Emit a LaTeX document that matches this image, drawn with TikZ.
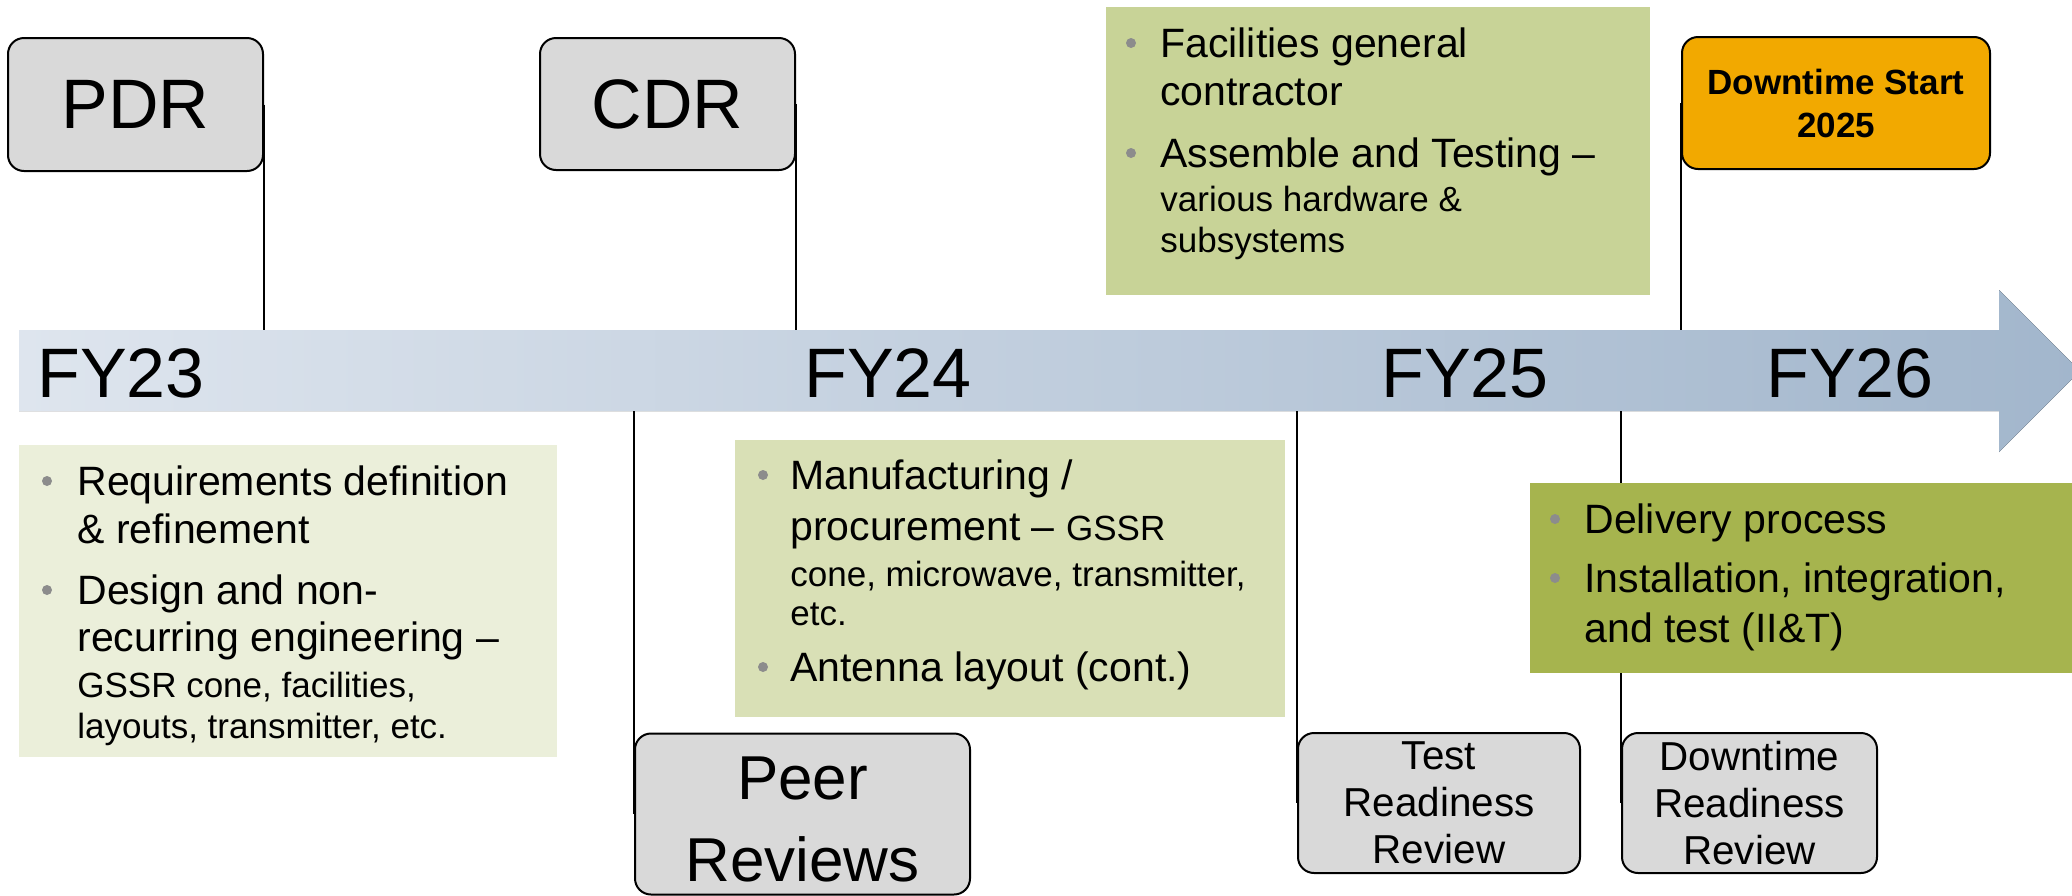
\documentclass[tikz,border=0pt]{standalone}
\usepackage{fontspec}
\setmainfont{Liberation Sans}
\usetikzlibrary{backgrounds}
\newcommand\smtxt{\fontsize{17.5}{20}\selectfont}
\definecolor{boxgray}{HTML}{D9D9D9}
\definecolor{cone}{HTML}{EBEFDA}
\definecolor{ctwo}{HTML}{D9E0B6}
\definecolor{cthree}{HTML}{C8D397}
\definecolor{cfour}{HTML}{A6B44E}
\definecolor{dtorange}{HTML}{F2A900}
\definecolor{bandleft}{HTML}{DEE5EE}
\definecolor{bandright}{HTML}{A2B6CC}
\definecolor{bulletgray}{HTML}{8C8C8C}
\tikzset{
  gbox/.style={draw=black, line width=1pt, fill=boxgray, rounded corners=8pt, inner sep=0pt, align=center},
  cbox/.style={inner sep=0pt, outer sep=0pt, anchor=north west},
  bigtxt/.style={anchor=base west, inner sep=0pt, font=\fontsize{20.5}{24}\selectfont},
  smalltxt/.style={anchor=base west, inner sep=0pt, font=\smtxt},
  bdot/.style={circle, fill=bulletgray, inner sep=0pt, minimum size=5pt},
  fytxt/.style={anchor=base west, inner sep=0pt, font=\fontsize{35}{40}\selectfont},
  hugetxt/.style={font=\fontsize{35}{40}\selectfont},
  revtxt/.style={font=\fontsize{20.2}{23.5}\selectfont},
  tick/.style={line width=0.7pt, draw=black}
}
\begin{document}
\begin{tikzpicture}[x=0.5pt,y=-0.5pt]
\useasboundingbox (0,0) rectangle (2072,895);
\coordinate (bandN) at (0,330);
\coordinate (bandS) at (0,411);
% year labels
\node[fytxt] (fy23) at (37,397) {FY23};
\node[fytxt] (fy24) at (804,397) {FY24};
\node[fytxt] (fy25) at (1381,397) {FY25};
\node[fytxt] (fy26) at (1766,397) {FY26};
% milestone boxes
\path (135.5,104.5) node[gbox, hugetxt, minimum width=127.5pt, minimum height=66.5pt] (pdr) {PDR};
\path (667.5,104) node[gbox, hugetxt, minimum width=127.5pt, minimum height=66pt] (cdr) {CDR};
\path (1836,103) node[gbox, fill=dtorange, minimum width=154pt, minimum height=66pt, font=\fontsize{17.5}{21.5}\selectfont\bfseries] (dts) {Downtime Start\\2025};
\path (802.5,814) node[gbox, minimum width=167.5pt, minimum height=80.5pt] (peer) {};
\node[anchor=base, inner sep=0pt, font=\fontsize{31}{40}\selectfont] (peerA) at (802.5,799) {Peer};
\node[anchor=base, inner sep=0pt, font=\fontsize{31}{40}\selectfont] (peerB) at (802.5,881) {Reviews};
\path (1439,803) node[gbox, revtxt, minimum width=141pt, minimum height=70pt] (trr) {Test\\Readiness\\Review};
\path (1749.5,803) node[gbox, revtxt, minimum width=127.5pt, minimum height=70pt] (dtr) {Downtime\\Readiness\\Review};
% timeline band and connectors behind
\begin{scope}[on background layer]
\fill[left color=bandleft, right color=bandright]
  (19,330) -- (1999,330) -- (1999,290) -- (2080,371) -- (1999,452) -- (1999,411) -- (19,411) -- cycle;
\draw[tick] (pdr.east) -- (pdr.east |- bandN);
\draw[tick] (cdr.east) -- (cdr.east |- bandN);
\draw[tick] (dts.west) -- (dts.west |- bandN);
\draw[tick] (peer.west |- bandS) -- (peer.west);
\draw[tick] (trr.west |- bandS) -- (trr.west);
\draw[tick] (dtr.west |- bandS) -- (dtr.west);
\end{scope}
% activity boxes
\node[cbox, fill=cone, minimum width=269pt, minimum height=156pt] (req) at (19,445) {};
\node[cbox, fill=ctwo, minimum width=275pt, minimum height=138.5pt] (mfg) at (735,440) {};
\node[cbox, fill=cthree, minimum width=272pt, minimum height=144pt] (fac) at (1106,7) {};
\node[cbox, fill=cfour, minimum width=275pt, minimum height=95pt] (del) at (1530,483) {};
% box 1
\node[bdot] (r1) at (47,481) {};
\node[bigtxt] (r1a) at (77,495) {Requirements definition};
\node[bigtxt] (r1b) at (77,543) {\& refinement};
\node[bdot] (r2) at (47,590) {};
\node[bigtxt] (r2a) at (77,604) {Design and non-};
\node[bigtxt] (r2b) at (77,651) {recurring engineering –};
\node[smalltxt] (r2c) at (77,697) {GSSR cone, facilities,};
\node[smalltxt] (r2d) at (77,738) {layouts, transmitter, etc.};
% box 2
\node[bdot] (m1) at (763,475) {};
\node[bigtxt] (m1a) at (790,489) {Manufacturing /};
\node[bigtxt] (m1b) at (790,540) {procurement – {\smtxt GSSR}};
\node[smalltxt] (m1c) at (790,586) {cone, microwave, transmitter,};
\node[smalltxt] (m1d) at (790,625) {etc.};
\node[bdot] (m2) at (763,667) {};
\node[bigtxt] (m2a) at (790,681) {Antenna layout (cont.)};
% box 3
\node[bdot] (f1) at (1131,43) {};
\node[bigtxt] (f1a) at (1160,57) {Facilities general};
\node[bigtxt] (f1b) at (1160,105) {contractor};
\node[bdot] (f2) at (1131,153) {};
\node[bigtxt] (f2a) at (1160,167) {Assemble and Testing –};
\node[smalltxt] (f2b) at (1160,211) {various hardware \&};
\node[smalltxt] (f2c) at (1160,252) {subsystems};
% box 4
\node[bdot] (d1) at (1555,519) {};
\node[bigtxt] (d1a) at (1584,533) {Delivery process};
\node[bdot] (d2) at (1555,578) {};
\node[bigtxt] (d2a) at (1584,592) {Installation, integration,};
\node[bigtxt] (d2b) at (1584,642) {and test (II\&T)};
\end{tikzpicture}
\end{document}
